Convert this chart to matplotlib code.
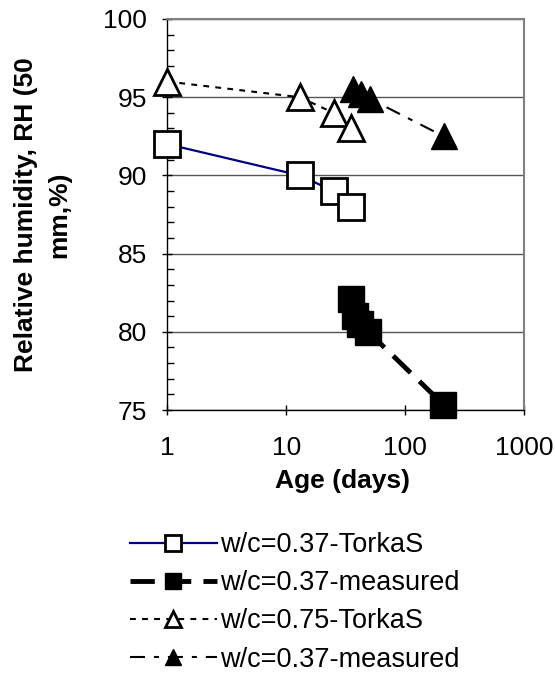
import numpy as np
import matplotlib.pyplot as plt
from matplotlib.ticker import MultipleLocator, NullLocator, FixedLocator

plt.rcParams['font.family'] = ['Liberation Sans', 'DejaVu Sans']

# series (age in days, RH in %)
AGE_TORKAS_037 = [1, 13, 25, 35]
RH_TORKAS_037  = [92.0, 90.0, 89.0, 88.0]

AGE_MEAS_037 = [35, 38, 42, 49, 210]
RH_MEAS_037  = [82.1, 81.0, 80.5, 80.0, 75.35]

AGE_TORKAS_075 = [1, 13, 25, 35]
RH_TORKAS_075  = [96.0, 95.0, 94.0, 93.0]

AGE_MEAS_075 = [36.6, 42.2, 50.5, 211]
RH_MEAS_075  = [95.5, 95.2, 94.9, 92.5]

LABELS = ['w/c=0.37-TorkaS', 'w/c=0.37-measured',
          'w/c=0.75-TorkaS', 'w/c=0.37-measured']

W, H = 555, 673
fig = plt.figure(figsize=(W / 100, H / 100), dpi=100)
ax = fig.add_axes([167.3 / W, 1 - 410 / H, (524 - 167.3) / W, (410 - 19) / H])

ms = 19
l1, = ax.plot(AGE_TORKAS_037, RH_TORKAS_037, color='#000080', lw=1.6,
              marker='s', ms=ms, mfc='white', mec='black', mew=2, clip_on=False, zorder=3)
l2, = ax.plot(AGE_MEAS_037, RH_MEAS_037, color='black', lw=3.5, dashes=(5, 2.5),
              marker='s', ms=ms, mfc='black', mec='black', mew=1, clip_on=False, zorder=4)
l3, = ax.plot(AGE_TORKAS_075, RH_TORKAS_075, color='black', lw=1.5, dashes=(2.8, 3),
              marker='^', ms=ms, mfc='white', mec='black', mew=2, clip_on=False, zorder=3)
l4, = ax.plot(AGE_MEAS_075, RH_MEAS_075, color='black', lw=1.5, dashes=(7.2, 4.3, 2.4, 4.3),
              marker='^', ms=ms, mfc='black', mec='black', mew=1, clip_on=False, zorder=4)

ax.set_xscale('log')
ax.set_xlim(1, 1000)
ax.set_ylim(75, 100)
ax.xaxis.set_major_locator(FixedLocator([1, 10, 100, 1000]))
ax.xaxis.set_minor_locator(NullLocator())
ax.set_xticklabels(['1', '10', '100', '1000'])
ax.yaxis.set_major_locator(MultipleLocator(5))
ax.yaxis.set_minor_locator(MultipleLocator(1))

ax.tick_params(axis='both', which='major', direction='inout', length=7, width=1,
               labelsize=19, color='black')
ax.tick_params(axis='y', which='major', pad=11)
ax.tick_params(axis='x', which='major', pad=15)
ax.tick_params(axis='y', which='minor', direction='in', length=5, width=1)

ax.yaxis.grid(True, which='major', color='#555555', lw=1)
ax.set_axisbelow(True)
for side in ('top', 'right'):
    ax.spines[side].set_color('#808080')
    ax.spines[side].set_linewidth(1.5)
for side in ('left', 'bottom'):
    ax.spines[side].set_color('black')
    ax.spines[side].set_linewidth(1)

ax.set_xlabel('Age (days)', fontsize=19, fontweight='bold')
ax.xaxis.set_label_coords(0.49, -0.152)
ax.set_ylabel('Relative humidity, RH (50\nmm,%)', fontsize=19, fontweight='bold',
              linespacing=1.45)
ax.yaxis.set_label_coords(-0.27, 0.5)

fig.legend([l1, l2, l3, l4], LABELS, loc='upper left',
           bbox_to_anchor=(130 / W, 1 - 532 / H), frameon=False, fontsize=19.5,
           handlelength=3.2, handletextpad=0.12, labelspacing=0.45,
           borderpad=0, borderaxespad=0, markerscale=0.6)

plt.savefig('out.png', dpi=100)
